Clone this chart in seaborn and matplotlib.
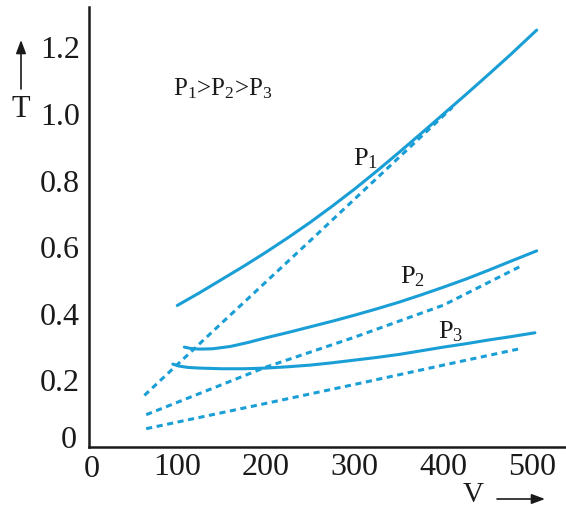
import matplotlib
matplotlib.use("Agg")
import matplotlib.pyplot as plt
import seaborn as sns
import pandas as pd

# ---- data ----
p1_solid_v = [100, 125, 150, 175, 200, 225, 250, 275, 300, 325, 350, 375, 400, 425, 450, 475, 505]
p1_solid_t = [0.425, 0.463, 0.503, 0.543, 0.585, 0.629, 0.675, 0.724, 0.775, 0.829, 0.885,
              0.942, 1.0, 1.058, 1.117, 1.177, 1.252]
p1_dash_v = [63, 150, 250, 350, 410]
p1_dash_t = [0.155, 0.372, 0.62, 0.87, 1.02]

p2_solid_v = [108, 115, 125, 140, 160, 180, 200, 225, 250, 275, 300, 325, 350, 375, 400,
              425, 450, 475, 505]
p2_solid_t = [0.300, 0.296, 0.294, 0.295, 0.302, 0.314, 0.328, 0.344, 0.361, 0.378, 0.396,
              0.415, 0.435, 0.457, 0.480, 0.504, 0.530, 0.557, 0.589]
p2_dash_v = [65, 200, 300, 400, 490]
p2_dash_t = [0.097, 0.240, 0.330, 0.426, 0.547]

p3_solid_v = [95, 102, 112, 125, 150, 175, 200, 225, 250, 275, 300, 325, 350, 375, 400,
              425, 450, 475, 503]
p3_solid_t = [0.249, 0.243, 0.239, 0.237, 0.235, 0.235, 0.237, 0.241, 0.246, 0.253, 0.261,
              0.269, 0.278, 0.289, 0.300, 0.310, 0.321, 0.331, 0.343]
p3_dash_v = [65, 200, 300, 400, 484]
p3_dash_t = [0.055, 0.131, 0.188, 0.246, 0.294]

x_ticks = [100, 200, 300, 400, 500]
y_ticks = [0.2, 0.4, 0.6, 0.8, 1.0, 1.2]
y_tick_labels = ["0.2", "0.4", "0.6", "0.8", "1.0", "1.2"]
curve_labels = ["P$_1$", "P$_2$", "P$_3$"]
relation_text = "P$_1$>P$_2$>P$_3$"

color = "#1a9ed6"
ink = "#1a1a1a"

sns.set_style("white")
plt.rcParams["font.family"] = ["Liberation Serif", "DejaVu Serif"]
plt.rcParams["mathtext.fontset"] = "custom"
plt.rcParams["mathtext.rm"] = "Liberation Serif"
plt.rcParams["mathtext.it"] = "Liberation Serif:italic"

W, H = 566, 512
fig = plt.figure(figsize=(W / 100, H / 100), dpi=100)
x0_px, y0_px = 88.5, 447
ax = fig.add_axes([x0_px / W, (H - y0_px) / H, 1 - x0_px / W, (y0_px - 7) / H])

solid = [(p1_solid_v, p1_solid_t), (p2_solid_v, p2_solid_t), (p3_solid_v, p3_solid_t)]
dashed = [(p1_dash_v, p1_dash_t), (p2_dash_v, p2_dash_t), (p3_dash_v, p3_dash_t)]

for v, t in solid:
    df = pd.DataFrame({"V": v, "T": t})
    sns.lineplot(data=df, x="V", y="T", ax=ax, color=color, lw=2.2, sort=False,
                 solid_capstyle="round", solid_joinstyle="round")
for v, t in dashed:
    df = pd.DataFrame({"V": v, "T": t})
    sns.lineplot(data=df, x="V", y="T", ax=ax, color=color, lw=2.2,
                 linestyle=(0, (2.0, 1.5)), sort=False)

xmax = (W - x0_px) / 0.8875
ax.set_xlim(0, xmax)
ax.set_ylim(0, (y0_px - 7) / 333.0)

ax.set_xticks(x_ticks)
ax.set_xticklabels([str(v) for v in x_ticks])
ax.set_yticks(y_ticks)
ax.set_yticklabels(y_tick_labels)
ax.tick_params(axis="both", direction="in", length=9, width=1.0, labelsize=23,
               color=ink, labelcolor=ink)
ax.tick_params(axis="x", pad=4)
ax.tick_params(axis="y", pad=6)
ax.set_xlabel("")
ax.set_ylabel("")
for s in ["top", "right"]:
    ax.spines[s].set_visible(False)
for s in ["left", "bottom"]:
    ax.spines[s].set_linewidth(1.8)
    ax.spines[s].set_color(ink)

# origin "0" labels
ax.text(4, -0.025, "0", ha="center", va="top", fontsize=23, color=ink)
ax.text(-13, 0.02, "0", ha="right", va="center", fontsize=23, color=ink)

# curve labels
ax.text(298, 0.847, curve_labels[0], fontsize=19, va="baseline", ha="left", color=ink)
ax.text(351, 0.492, curve_labels[1], fontsize=19, va="baseline", ha="left", color=ink)
ax.text(394, 0.327, curve_labels[2], fontsize=19, va="baseline", ha="left", color=ink)
ax.text(95, 1.057, relation_text, fontsize=18, va="baseline", ha="left", color=ink)

# axis names with arrows (figure pixel coordinates)
fig.text(21 / W, 1 - 117 / H, "T", fontsize=22, ha="center", va="baseline", color=ink)
ax.annotate("", xy=(21, H - 40), xytext=(21, H - 89), xycoords="figure pixels",
            textcoords="figure pixels",
            arrowprops=dict(arrowstyle="-|>,head_length=0.8,head_width=0.3", lw=1.2,
                            color=ink, shrinkA=0, shrinkB=0))
fig.text(473 / W, 1 - 502 / H, "V", fontsize=21, ha="center", va="baseline", color=ink)
ax.annotate("", xy=(545, H - 499), xytext=(497, H - 499), xycoords="figure pixels",
            textcoords="figure pixels",
            arrowprops=dict(arrowstyle="-|>,head_length=0.8,head_width=0.3", lw=1.2,
                            color=ink, shrinkA=0, shrinkB=0))

fig.savefig("out.png", dpi=100)
